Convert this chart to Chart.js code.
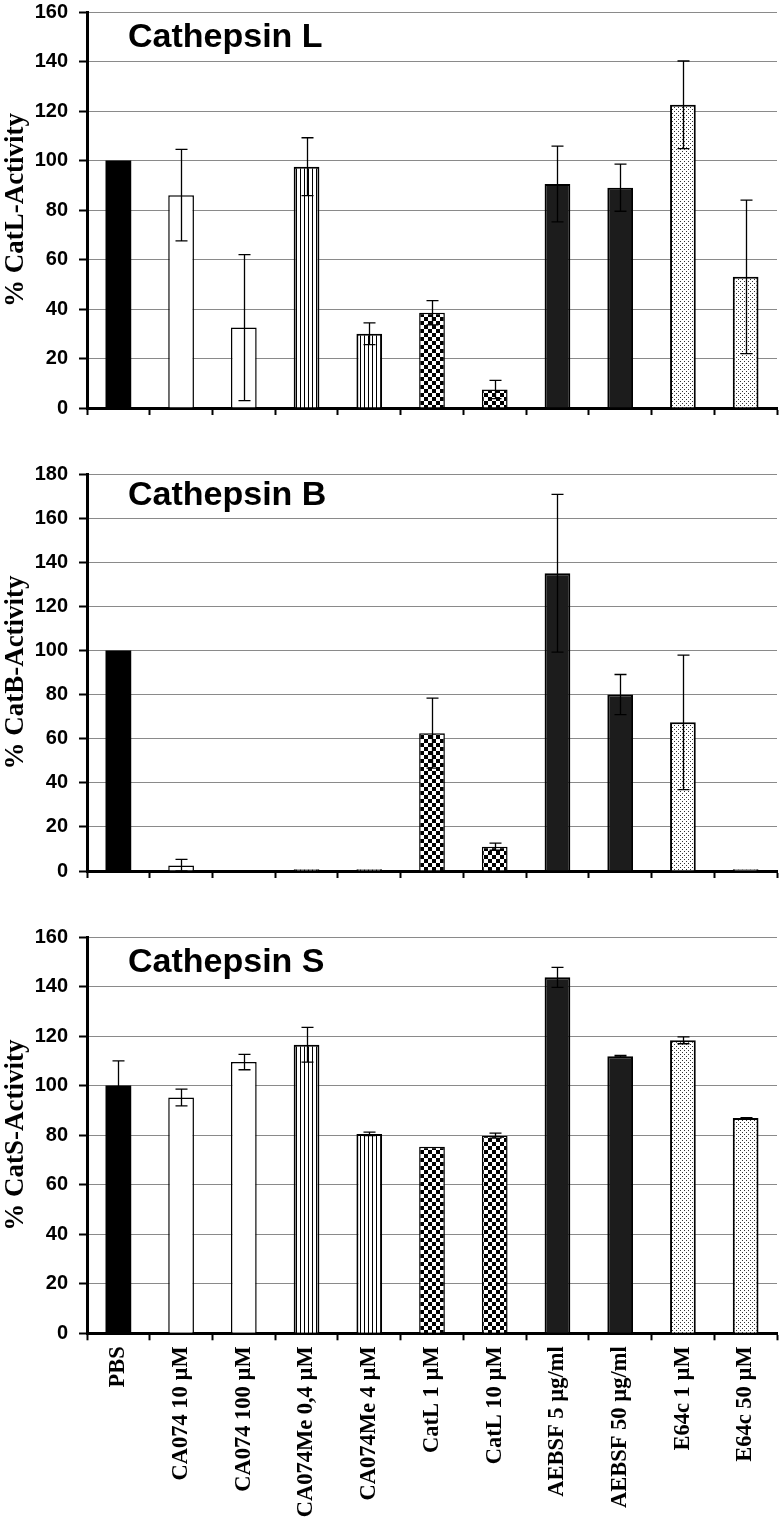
<!DOCTYPE html>
<html>
<head>
<meta charset="utf-8">
<script src="https://cdn.jsdelivr.net/npm/chart.js@4"></script>
<style>
  html, body { margin: 0; padding: 0; background: #fff; }
  #wrap { position: relative; width: 783px; height: 1525px; overflow: hidden; }
  canvas { position: absolute; left: 0; }
</style>
</head>
<body>
<div id="wrap">
  <canvas id="c1" width="783" height="442" style="top:-11px"></canvas>
  <canvas id="c2" width="783" height="443" style="top:450.7px"></canvas>
  <canvas id="c3" width="783" height="611" style="top:914px"></canvas>
</div>
<script>
// ---- data ----
const categories = ['PBS', 'CA074 10 µM', 'CA074 100 µM', 'CA074Me 0,4 µM', 'CA074Me 4 µM',
  'CatL 1 µM', 'CatL 10 µM', 'AEBSF 5 µg/ml', 'AEBSF 50 µg/ml', 'E64c 1 µM', 'E64c 50 µM'];

const catLValues = [100, 86, 32.5, 97.5, 30, 38.5, 7.5, 90.5, 89, 122.5, 53];
const catLErrors = [0, 18.5, 29.5, 11.7, 4.4, 4.9, 3.7, 15.3, 9.5, 17.7, 31];

const catBValues = [100, 2.5, 0, 0.8, 0.8, 62.5, 11, 135, 80, 67.4, 0.8];
const catBErrors = [0, 2.8, 0, 0, 0, 15.9, 1.6, 35.8, 9.1, 30.5, 0];

const catSValues = [100, 95.2, 109.5, 116.5, 80.5, 75.3, 79.8, 143.7, 111.9, 118.3, 86.9];
const catSErrors = [10, 3.4, 3.1, 7, 0.7, 0, 1, 4, 0.3, 1.4, 0.2];

const yTickStep = 20;

// ---- fill patterns ----
function tile(w, h, draw) {
  const c = document.createElement('canvas');
  c.width = w; c.height = h;
  const g = c.getContext('2d');
  g.fillStyle = '#fff'; g.fillRect(0, 0, w, h);
  draw(g);
  return g.createPattern(c, 'repeat');
}
const pStripes = tile(4, 4, g => { g.fillStyle = '#000'; g.fillRect(0, 0, 1, 4); });
const pChecker = tile(8, 8, g => { g.fillStyle = '#000'; g.fillRect(0, 0, 4, 4); g.fillRect(4, 4, 4, 4); });
const pDots = tile(4, 4, g => { g.fillStyle = '#333'; g.fillRect(0, 0, 1, 1); g.fillRect(2, 2, 1, 1); });

const fills = ['#000', '#fff', '#fff', pStripes, pStripes, pChecker, pChecker, '#1c1c1c', '#1c1c1c', pDots, pDots];
const borders = [0, 1.5, 1.5, 2, 2, 1.5, 1.5, 2, 2, 2, 2];

// ---- error bars ----
const errorBarPlugin = {
  id: 'errorBars',
  afterDatasetsDraw(chart, args, opts) {
    const errs = opts.errors;
    if (!errs) return;
    const ctx = chart.ctx;
    const y = chart.scales.y;
    const meta = chart.getDatasetMeta(0);
    const vals = chart.data.datasets[0].data;
    ctx.save();
    ctx.strokeStyle = '#000';
    ctx.lineWidth = 1.3;
    meta.data.forEach((bar, i) => {
      const e = errs[i];
      if (!e) return;
      const x = Math.round(bar.x) + 0.5;
      const top = y.getPixelForValue(vals[i] + e);
      const bot = y.getPixelForValue(Math.max(0, vals[i] - e));
      const hw = 6;
      ctx.beginPath();
      ctx.moveTo(x, top); ctx.lineTo(x, bot);
      ctx.moveTo(x - hw, top); ctx.lineTo(x + hw, top);
      ctx.moveTo(x - hw, bot); ctx.lineTo(x + hw, bot);
      ctx.stroke();
    });
    ctx.restore();
  }
};

const panelTitlePlugin = {
  id: 'panelTitle',
  afterDraw(chart, args, opts) {
    if (!opts.text) return;
    const ctx = chart.ctx;
    ctx.save();
    ctx.font = 'bold 34px "Liberation Sans", Arial, sans-serif';
    ctx.fillStyle = '#000';
    ctx.textBaseline = 'alphabetic';
    ctx.textAlign = 'left';
    ctx.fillText(opts.text, opts.x, chart.chartArea.top + opts.dy);
    ctx.restore();
  }
};

function makeChart(id, values, errors, yMax, yTitle, title, titleDy, xHeight, showLabels) {
  return new Chart(document.getElementById(id), {
    type: 'bar',
    data: {
      labels: categories,
      datasets: [{
        data: values,
        backgroundColor: fills,
        borderColor: '#000',
        borderWidth: borders,
        borderSkipped: 'bottom',
        barPercentage: 0.41,
        categoryPercentage: 1.0
      }]
    },
    options: {
      responsive: false,
      animation: false,
      events: [],
      layout: { padding: { top: 0, right: 6, left: 0, bottom: 0 } },
      plugins: {
        legend: { display: false },
        tooltip: { enabled: false },
        errorBars: { errors: errors },
        panelTitle: { text: title, x: 128, dy: titleDy }
      },
      scales: {
        x: {
          offset: true,
          grid: {
            offset: true,
            drawOnChartArea: false,
            drawTicks: true,
            tickLength: 7,
            tickWidth: 2,
            tickColor: '#000'
          },
          border: { color: '#000', width: 3 },
          ticks: {
            display: showLabels,
            autoSkip: false,
            maxRotation: 90,
            minRotation: 90,
            padding: 6,
            color: '#000',
            font: { family: '"Liberation Serif", "Times New Roman", serif', size: 22.5, weight: 'bold' }
          },
          afterFit(scale) { scale.height = xHeight; }
        },
        y: {
          min: 0,
          max: yMax,
          ticks: {
            stepSize: yTickStep,
            padding: 11,
            color: '#000',
            font: { family: '"Liberation Sans", Arial, sans-serif', size: 20, weight: 'bold' }
          },
          grid: {
            color: '#8a8a8a',
            lineWidth: 1,
            drawTicks: true,
            tickLength: 8,
            tickWidth: 2,
            tickColor: '#000'
          },
          border: { color: '#000', width: 3 },
          title: {
            display: true,
            text: yTitle,
            color: '#000',
            padding: 0,
            font: { family: '"Liberation Serif", "Times New Roman", serif', size: 27, weight: 'bold' }
          },
          afterFit(scale) { scale.width = 87; }
        }
      }
    },
    plugins: [errorBarPlugin, panelTitlePlugin]
  });
}

makeChart('c1', catLValues, catLErrors, 160, '% CatL-Activity', 'Cathepsin L', 35, 12, false);
makeChart('c2', catBValues, catBErrors, 180, '% CatB-Activity', 'Cathepsin B', 31, 12, false);
makeChart('c3', catSValues, catSErrors, 160, '% CatS-Activity', 'Cathepsin S', 35, 191.7, true);
</script>
</body>
</html>
